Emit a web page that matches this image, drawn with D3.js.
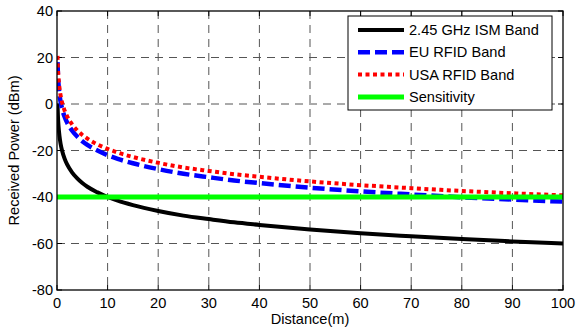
<!DOCTYPE html>
<html>
<head>
<meta charset="utf-8">
<script src="https://cdn.jsdelivr.net/npm/d3@7"></script>
<style>
  body { margin: 0; background: #fff; }
  svg { display: block; font-family: "Liberation Sans", Arial, sans-serif; }
</style>
</head>
<body>
<div id="chart"></div>
<script>
const distance = [0.1, 0.2, 0.3, 0.5, 0.7, 1, 1.5, 2, 3, 4, 5, 6, 8, 10, 12, 15, 20, 25, 30, 35, 40, 50, 60, 70, 80, 90, 100]
const ismBand = [0, -6, -9.5, -14, -17, -20, -23.5, -26, -29.5, -32, -34, -35.6, -38, -40, -41.6, -43.5, -46, -48, -49.5, -50.9, -52, -54, -55.6, -56.9, -58.1, -59.1, -60]
const euBand = [18, 12, 8.5, 4, 1.1, -2, -5.5, -8, -11.5, -14, -16, -17.6, -20, -22, -23.6, -25.5, -28, -30, -31.5, -32.9, -34, -36, -37.6, -38.9, -40.1, -41.1, -42]
const usaBand = [20.7, 14.7, 11.2, 6.7, 3.8, 0.7, -2.8, -5.3, -8.8, -11.3, -13.3, -14.9, -17.4, -19.3, -20.9, -22.8, -25.3, -27.3, -28.8, -30.2, -31.3, -33.3, -34.9, -36.2, -37.4, -38.4, -39.3]
const sensitivityX = [0, 100]
const sensitivity = [-40, -40]

const xTicks = [0, 10, 20, 30, 40, 50, 60, 70, 80, 90, 100]
const yTicks = [40, 20, 0, -20, -40, -60, -80]
const legendNames = ["2.45 GHz ISM Band", "EU RFID Band", "USA RFID Band", "Sensitivity"]

const width = 576
const height = 331
const margin = { top: 11, left: 57, bottom: 41, right: 13 }
const iwidth = width - margin.left - margin.right
const iheight = height - margin.top - margin.bottom
const fontSize = 14.6

const svg = d3.select("#chart").append("svg")
    .attr("width", width)
    .attr("height", height)

svg.append("rect").attr("width", width).attr("height", height).attr("fill", "#fff")

const g = svg.append("g")
    .attr("transform", `translate(${margin.left}, ${margin.top})`)

const x = d3.scaleLinear().domain([0, 100]).range([0, iwidth])
const y = d3.scaleLinear().domain([-80, 40]).range([iheight, 0])

// grid
g.append("g")
    .selectAll("line")
    .data(xTicks.slice(1, -1))
    .join("line")
    .attr("x1", d => x(d)).attr("x2", d => x(d))
    .attr("y1", 0).attr("y2", iheight)
    .attr("stroke", "#555")
    .attr("stroke-dasharray", "8,6")
g.append("g")
    .selectAll("line")
    .data(yTicks.slice(1, -1))
    .join("line")
    .attr("y1", d => y(d)).attr("y2", d => y(d))
    .attr("x1", 0).attr("x2", iwidth)
    .attr("stroke", "#555")
    .attr("stroke-dasharray", "8,6")

// inward ticks on all four sides
const tickLen = 5
const ticks = g.append("g").attr("stroke", "#000").attr("stroke-width", 1)
xTicks.forEach(t => {
    ticks.append("line").attr("x1", x(t)).attr("x2", x(t)).attr("y1", iheight).attr("y2", iheight - tickLen)
    ticks.append("line").attr("x1", x(t)).attr("x2", x(t)).attr("y1", 0).attr("y2", tickLen)
})
yTicks.forEach(t => {
    ticks.append("line").attr("y1", y(t)).attr("y2", y(t)).attr("x1", 0).attr("x2", tickLen)
    ticks.append("line").attr("y1", y(t)).attr("y2", y(t)).attr("x1", iwidth).attr("x2", iwidth - tickLen)
})

svg.append("clipPath").attr("id", "clip")
    .append("rect").attr("width", iwidth).attr("height", iheight)

const plot = g.append("g").attr("clip-path", "url(#clip)")

const line = d3.line()
    .x(d => x(d[0]))
    .y(d => y(d[1]))
    .curve(d3.curveMonotoneX)

const series = [
    { values: d3.zip(distance, ismBand), color: "#000", width: 4, dash: null },
    { values: d3.zip(distance, euBand), color: "#0000ff", width: 4.5, dash: "12,5" },
    { values: d3.zip(distance, usaBand), color: "#ff0000", width: 4, dash: "4,3.5" },
    { values: d3.zip(sensitivityX, sensitivity), color: "#00ff00", width: 5, dash: null }
]

series.forEach(s => {
    plot.append("path")
        .datum(s.values)
        .attr("fill", "none")
        .attr("stroke", s.color)
        .attr("stroke-width", s.width)
        .attr("stroke-dasharray", s.dash)
        .attr("d", line)
})

// axes box
g.append("rect")
    .attr("width", iwidth).attr("height", iheight)
    .attr("fill", "none").attr("stroke", "#000").attr("stroke-width", 1.3)

// tick labels
g.append("g")
    .selectAll("text")
    .data(xTicks)
    .join("text")
    .attr("x", d => x(d))
    .attr("y", iheight + 18)
    .attr("text-anchor", "middle")
    .attr("font-size", fontSize)
    .text(d => d)

g.append("g")
    .selectAll("text")
    .data(yTicks)
    .join("text")
    .attr("x", -4)
    .attr("y", d => y(d))
    .attr("dy", "0.35em")
    .attr("text-anchor", "end")
    .attr("font-size", fontSize)
    .text(d => d)

svg.append("text")
    .attr("x", margin.left + iwidth / 2)
    .attr("y", 324)
    .attr("text-anchor", "middle")
    .attr("font-size", fontSize)
    .text("Distance(m)")

svg.append("text")
    .attr("transform", `translate(19, ${margin.top + iheight / 2}) rotate(-90)`)
    .attr("text-anchor", "middle")
    .attr("font-size", fontSize)
    .text("Received Power (dBm)")

// legend
const legend = svg.append("g").attr("transform", "translate(348, 16)")
legend.append("rect")
    .attr("width", 204).attr("height", 94)
    .attr("fill", "#fff").attr("stroke", "#000").attr("stroke-width", 1)

series.forEach((s, i) => {
    const ly = 14 + i * 22.3
    legend.append("line")
        .attr("x1", 10).attr("x2", 56)
        .attr("y1", ly).attr("y2", ly)
        .attr("stroke", s.color)
        .attr("stroke-width", s.width)
        .attr("stroke-dasharray", s.dash)
    legend.append("text")
        .attr("x", 61)
        .attr("y", ly)
        .attr("dy", "0.35em")
        .attr("font-size", fontSize)
        .text(legendNames[i])
})
</script>
</body>
</html>
